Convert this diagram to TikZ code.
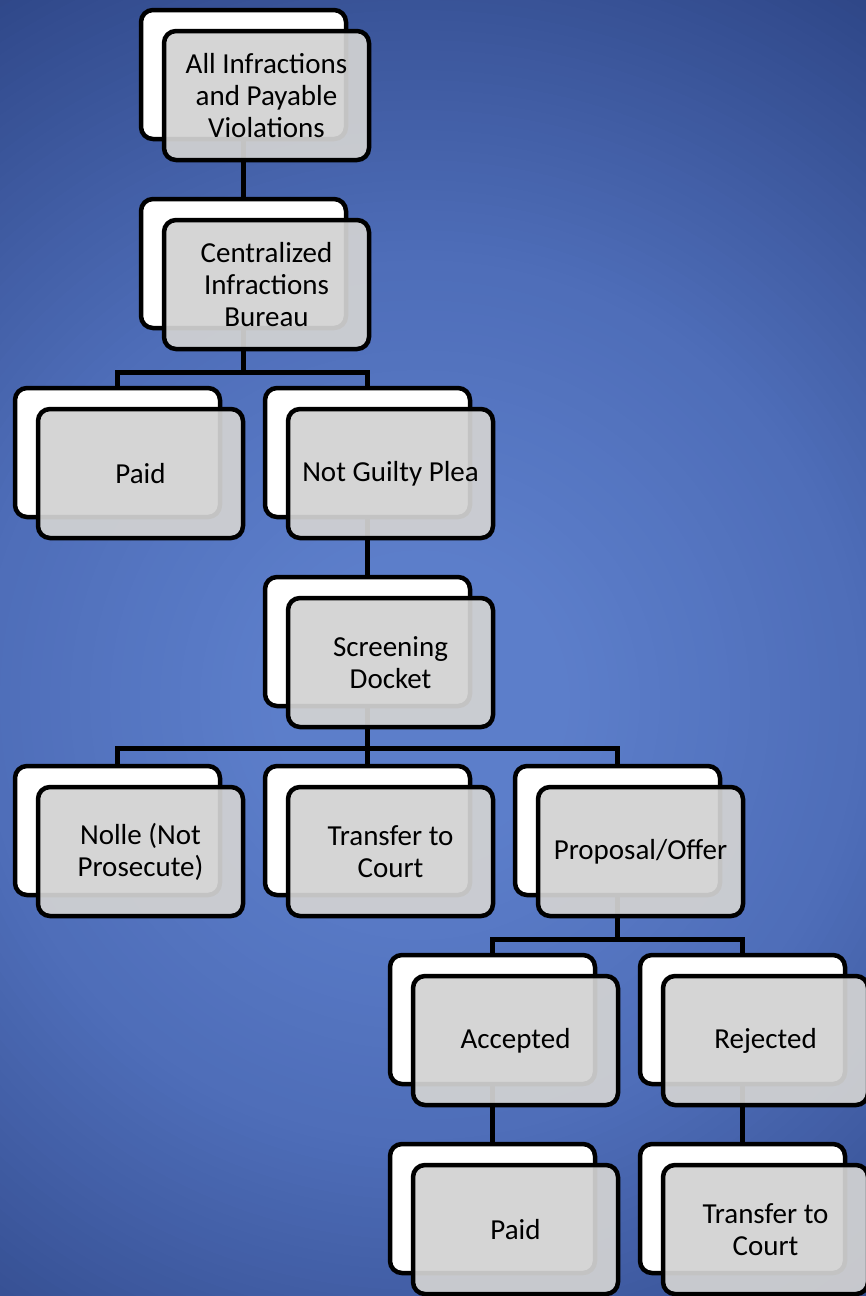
\documentclass[tikz,border=0pt]{standalone}
\usepackage{fontspec}
\setmainfont{Carlito}
\definecolor{bgin}{RGB}{92,126,202}
\definecolor{bgmid}{RGB}{78,109,184}
\definecolor{bgout}{RGB}{46,70,135}
\definecolor{frontgray}{RGB}{210,210,210}
\pgfdeclarelayer{background}
\pgfsetlayers{background,main}
\tikzset{
  backbox/.style={draw=black, fill=white, line width=4.5pt, rounded corners=12pt,
    minimum width=205pt, minimum height=129pt, inner sep=0pt},
  frontbox/.style={draw=black, fill=frontgray, fill opacity=0.93, text opacity=1,
    line width=4.5pt, rounded corners=12pt, minimum width=205pt, minimum height=129pt,
    inner sep=0pt, align=center, font=\fontsize{29}{32}\selectfont},
  conn/.style={draw=black, line width=4.5pt}
}
\begin{document}
\begin{tikzpicture}[x=1pt,y=-1pt]
\useasboundingbox (0,0) rectangle (865,1296);
% row 1
\node[backbox] (b1) at (243.5,74.5) {};
\node[frontbox] (f1) at (266.5,95.5) {All Infractions\\and Payable\\Violations};
% row 2
\node[backbox] (b2) at (243.5,263.5) {};
\node[frontbox] (f2) at (266.5,284.5) {Centralized\\Infractions\\Bureau};
% row 3
\node[backbox] (b3a) at (117.5,452.5) {};
\node[frontbox] (f3a) at (140.5,473.5) {Paid};
\node[backbox] (b3b) at (367.5,452.5) {};
\node[frontbox] (f3b) at (390.5,473.5) {Not Guilty Plea};
% row 4
\node[backbox] (b4) at (367.5,641.5) {};
\node[frontbox] (f4) at (390.5,662.5) {Screening\\Docket};
% row 5
\node[backbox] (b5a) at (117.5,830.5) {};
\node[frontbox] (f5a) at (140.5,851.5) {Nolle (Not\\Prosecute)};
\node[backbox] (b5b) at (367.5,830.5) {};
\node[frontbox] (f5b) at (390.5,851.5) {Transfer to\\Court};
\node[backbox] (b5c) at (617.5,830.5) {};
\node[frontbox] (f5c) at (640.5,851.5) {Proposal/Offer};
% row 6
\node[backbox] (b6a) at (492.5,1019.5) {};
\node[frontbox] (f6a) at (515.5,1040.5) {Accepted};
\node[backbox] (b6b) at (742.5,1019.5) {};
\node[frontbox] (f6b) at (765.5,1040.5) {Rejected};
% row 7
\node[backbox] (b7a) at (492.5,1208.5) {};
\node[frontbox] (f7a) at (515.5,1229.5) {Paid};
\node[backbox] (b7b) at (742.5,1208.5) {};
\node[frontbox] (f7b) at (765.5,1229.5) {Transfer to\\Court};
\begin{pgfonlayer}{background}
  \fill[bgout] (0,0) rectangle (865,1296);
  \foreach \r in {840,830,...,0} {
    \ifdim \r pt>450pt
      \pgfmathsetmacro{\p}{min(100,(\r-450)/390*100)}
      \fill[bgout!\p!bgmid] (420,700) circle [radius=\r pt];
    \else
      \ifdim \r pt>150pt
        \pgfmathsetmacro{\p}{(\r-150)/300*100}
        \fill[bgmid!\p!bgin] (420,700) circle [radius=\r pt];
      \else
        \fill[bgin] (420,700) circle [radius=\r pt];
      \fi
    \fi
  }
  \draw[conn] (b1.south) -- (b2.north);
  \draw[conn] (b2.south) -- ++(0,42) -| (b3a.north);
  \draw[conn] (b2.south) -- ++(0,42) -| (b3b.north);
  \draw[conn] (b3b.south) -- (b4.north);
  \draw[conn] (b4.south) -- ++(0,40) -| (b5a.north);
  \draw[conn] (b4.south) -- ++(0,40) -| (b5b.north);
  \draw[conn] (b4.south) -- ++(0,40) -| (b5c.north);
  \draw[conn] (b5c.south) -- ++(0,42) -| (b6a.north);
  \draw[conn] (b5c.south) -- ++(0,42) -| (b6b.north);
  \draw[conn] (b6a.south) -- (b7a.north);
  \draw[conn] (b6b.south) -- (b7b.north);
\end{pgfonlayer}
\end{tikzpicture}
\end{document}
